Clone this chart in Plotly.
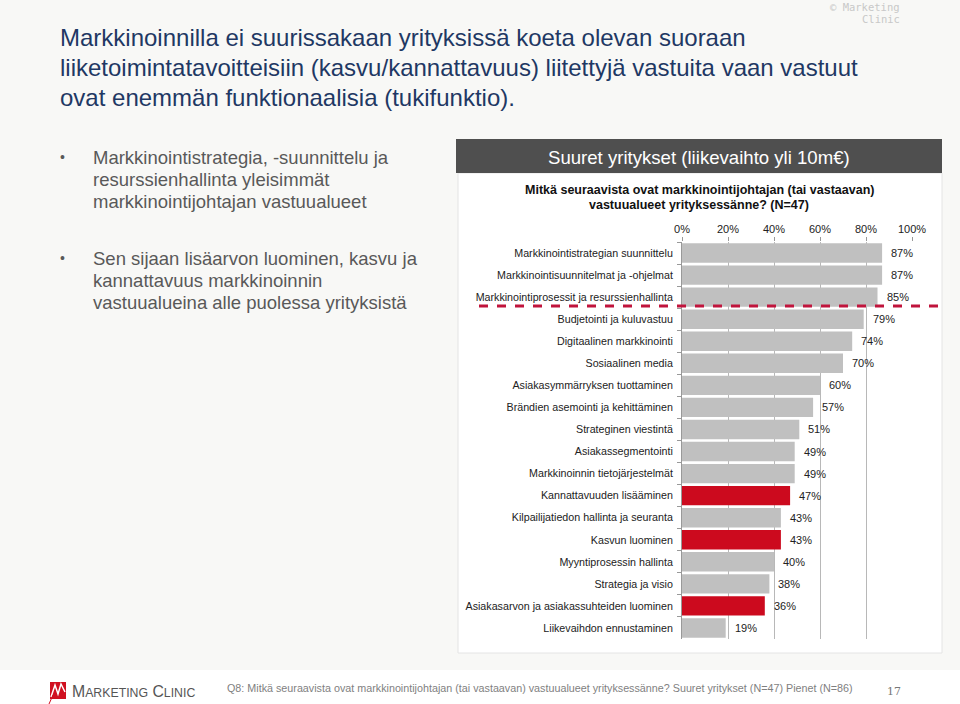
import plotly.graph_objects as go

categories = [
    "Markkinointistrategian suunnittelu",
    "Markkinointisuunnitelmat ja -ohjelmat",
    "Markkinointiprosessit ja resurssienhallinta",
    "Budjetointi ja kuluvastuu",
    "Digitaalinen markkinointi",
    "Sosiaalinen media",
    "Asiakasymmärryksen tuottaminen",
    "Brändien asemointi ja kehittäminen",
    "Strateginen viestintä",
    "Asiakassegmentointi",
    "Markkinoinnin tietojärjestelmät",
    "Kannattavuuden lisääminen",
    "Kilpailijatiedon hallinta ja seuranta",
    "Kasvun luominen",
    "Myyntiprosessin hallinta",
    "Strategia ja visio",
    "Asiakasarvon ja asiakassuhteiden luominen",
    "Liikevaihdon ennustaminen",
]
values = [87, 87, 85, 79, 74, 70, 60, 57, 51, 49, 49, 47, 43, 43, 40, 38, 36, 19]
highlighted = ["Kannattavuuden lisääminen", "Kasvun luominen",
               "Asiakasarvon ja asiakassuhteiden luominen"]
x_ticks = [0, 20, 40, 60, 80, 100]
x_tick_labels = ["0%", "20%", "40%", "60%", "80%", "100%"]

title_lines = [
    "Markkinoinnilla ei suurissakaan yrityksissä koeta olevan suoraan",
    "liiketoimintatavoitteisiin (kasvu/kannattavuus) liitettyjä vastuita vaan vastuut",
    "ovat enemmän funktionaalisia (tukifunktio).",
]
bullet1 = ["Markkinointistrategia, -suunnittelu ja",
           "resurssienhallinta yleisimmät",
           "markkinointijohtajan vastuualueet"]
bullet2 = ["Sen sijaan lisäarvon luominen, kasvu ja",
           "kannattavuus markkinoinnin",
           "vastuualueina alle puolessa yrityksistä"]

W, H = 960, 704
def px(x):
    return x / W
def py(y):
    return 1 - y / H

GRAY = "#c0c0c0"
RED = "#cc0a1e"
colors = [RED if c in highlighted else GRAY for c in categories]

fig = go.Figure()
fig.add_trace(go.Bar(
    x=values, y=categories, orientation="h",
    marker=dict(color=colors, line=dict(width=0)),
    hoverinfo="skip",
))

FONT = "Liberation Sans, Arial, sans-serif"
annotations = []
for c, v in zip(categories, values):
    annotations.append(dict(
        x=v, y=c, xref="x", yref="y", text=f"{v}%", showarrow=False,
        xanchor="left", xshift=7,
        font=dict(family=FONT, size=11, color="#222222"),
    ))

title_y = [38, 68, 97]
for t, yy in zip(title_lines, title_y):
    annotations.append(dict(
        x=px(58), y=py(yy), xref="paper", yref="paper", text=t, showarrow=False,
        xanchor="left", yanchor="middle",
        font=dict(family=FONT, size=24, color="#1F3864"),
    ))

for lines, ys in ((bullet1, [157, 179, 202]), (bullet2, [258, 280, 302])):
    annotations.append(dict(
        x=px(62), y=py(ys[0]), xref="paper", yref="paper", text="•", showarrow=False,
        xanchor="center", yanchor="middle",
        font=dict(family=FONT, size=14, color="#595959"),
    ))
    for t, yy in zip(lines, ys):
        annotations.append(dict(
            x=px(91), y=py(yy), xref="paper", yref="paper", text=t, showarrow=False,
            xanchor="left", yanchor="middle",
            font=dict(family=FONT, size=18.5, color="#595959"),
        ))

annotations.append(dict(
    x=px(699), y=py(157), xref="paper", yref="paper",
    text="Suuret yritykset (liikevaihto yli 10m€)", showarrow=False,
    xanchor="center", yanchor="middle",
    font=dict(family=FONT, size=18.6, color="#ffffff"),
))
for t, yy in (("Mitkä seuraavista ovat markkinointijohtajan (tai vastaavan)", 190),
              ("vastuualueet yrityksessänne? (N=47)", 205)):
    annotations.append(dict(
        x=px(699), y=py(yy), xref="paper", yref="paper", text=f"<b>{t}</b>",
        showarrow=False, xanchor="center", yanchor="middle",
        font=dict(family=FONT, size=12.5, color="#111111"),
    ))

for t, yy in (("© Marketing", 7), ("Clinic", 19)):
    annotations.append(dict(
        x=px(902), y=py(yy), xref="paper", yref="paper", text=t, showarrow=False,
        xanchor="right", yanchor="middle",
        font=dict(family="DejaVu Sans Mono, monospace", size=10.5, color="#c8c8c8"),
    ))

annotations.append(dict(
    x=px(225), y=py(688), xref="paper", yref="paper",
    text="Q8: Mitkä seuraavista ovat markkinointijohtajan (tai vastaavan) vastuualueet yrityksessänne? Suuret yritykset (N=47) Pienet (N=86)",
    showarrow=False, xanchor="left", yanchor="middle",
    font=dict(family=FONT, size=10.75, color="#7f7f7f"),
))
annotations.append(dict(
    x=px(894), y=py(691), xref="paper", yref="paper", text="17", showarrow=False,
    xanchor="center", yanchor="middle",
    font=dict(family="DejaVu Serif, serif", size=11, color="#777777"),
))
annotations.append(dict(
    x=px(70), y=py(691), xref="paper", yref="paper",
    text="M<span style='font-size:12.3px'>ARKETING</span> C<span style='font-size:12.3px'>LINIC</span>",
    showarrow=False, xanchor="left", yanchor="middle",
    font=dict(family=FONT, size=15.8, color="#555555"),
))

shapes = [
    # lower white area
    dict(type="rect", xref="paper", yref="paper", x0=0, x1=1,
         y0=0, y1=py(670), fillcolor="#ffffff", line=dict(width=0), layer="below"),
    # chart panel
    dict(type="rect", xref="paper", yref="paper", x0=px(458), x1=px(942),
         y0=py(653), y1=py(173), fillcolor="#ffffff",
         line=dict(color="#e4e4e4", width=1), layer="below"),
    # header
    dict(type="rect", xref="paper", yref="paper", x0=px(456), x1=px(942),
         y0=py(173), y1=py(139), fillcolor="#4f4f4f", line=dict(width=0), layer="below"),
    # dashed red separator
    dict(type="line", xref="paper", yref="paper", x0=px(479), x1=px(940),
         y0=py(306), y1=py(306), line=dict(color="#c0143c", width=3, dash="dash")),
    # logo icon
    dict(type="rect", xref="paper", yref="paper", x0=px(50), x1=px(66),
         y0=py(699), y1=py(682), fillcolor="#d01020", line=dict(width=0)),
    dict(type="path", xref="paper", yref="paper",
         path=f"M {px(51)} {py(697)} L {px(55)} {py(685)} L {px(58)} {py(694)} L {px(61)} {py(684)} L {px(65)} {py(692)}",
         line=dict(color="#ffffff", width=1.5)),
    dict(type="path", xref="paper", yref="paper",
         path=f"M {px(49)} {py(704)} L {px(53)} {py(695)}",
         line=dict(color="#d01020", width=1)),
]

fig.update_layout(
    width=W, height=H,
    margin=dict(l=0, r=0, t=0, b=0, autoexpand=False),
    paper_bgcolor="#f8f8f6",
    plot_bgcolor="rgba(0,0,0,0)",
    showlegend=False,
    bargap=0.12,
    annotations=annotations,
    shapes=shapes,
    xaxis=dict(
        domain=[px(682), px(912)], range=[0, 100], side="top",
        tickvals=x_ticks, ticktext=x_tick_labels,
        ticks="outside", ticklen=4, tickcolor="#999999",
        showgrid=True, gridcolor="#b8b8b8", gridwidth=1,
        zeroline=False, showline=False, automargin=False,
        tickfont=dict(family=FONT, size=11, color="#222222"),
        fixedrange=True,
    ),
    yaxis=dict(
        domain=[py(639), py(242)], autorange="reversed",
        type="category", tickson="boundaries",
        ticks="outside", ticklen=4, tickcolor="#999999",
        showline=True, linecolor="#999999", linewidth=1,
        showgrid=False, automargin=False,
        tickfont=dict(family=FONT, size=10.7, color="#222222"),
        ticklabelstandoff=6,
        fixedrange=True,
    ),
)

page_js = """
document.documentElement.style.margin='0';
document.body.style.margin='0';
document.body.style.padding='0';
document.body.style.overflow='hidden';
document.documentElement.style.overflow='hidden';
var gd = document.getElementById('{plot_id}');
gd.style.position='fixed'; gd.style.left='0px'; gd.style.top='0px';
"""

fig.write_html(
    "out.html",
    config={"displayModeBar": False},
    post_script=page_js,
)
